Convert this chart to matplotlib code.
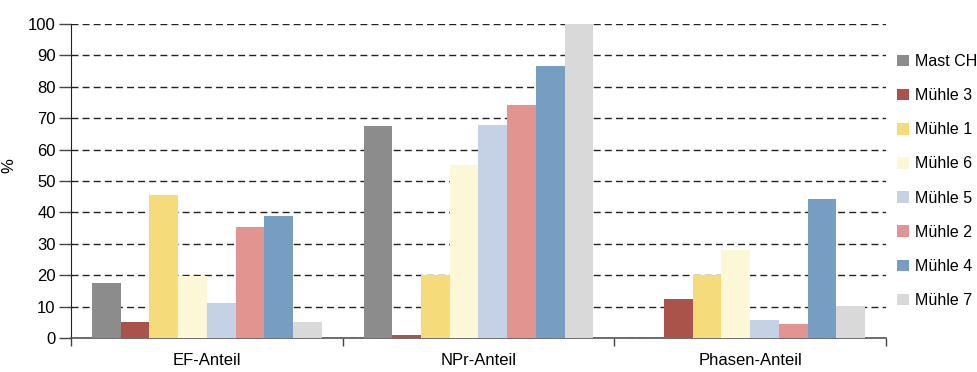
import matplotlib
matplotlib.use("Agg")
import matplotlib.pyplot as plt
import numpy as np
from matplotlib.patches import Patch

categories = ["EF-Anteil", "NPr-Anteil", "Phasen-Anteil"]
series = ["Mast CH", "Mühle 3", "Mühle 1", "Mühle 6", "Mühle 5", "Mühle 2", "Mühle 4", "Mühle 7"]
mast_ch = [17.5, 67.5, 0]
muehle3 = [5.1, 1.0, 12.5]
muehle1 = [45.5, 20.0, 20.0]
muehle6 = [19.8, 55.2, 28.1]
muehle5 = [11.0, 67.8, 5.8]
muehle2 = [35.3, 74.3, 4.6]
muehle4 = [39.0, 86.7, 44.2]
muehle7 = [5.1, 100.0, 10.3]
values = [mast_ch, muehle3, muehle1, muehle6, muehle5, muehle2, muehle4, muehle7]
colors = ["#8c8c8c", "#a9534b", "#f5db7a", "#fcf7d7", "#c5d2e5", "#e29491", "#769ec2", "#d9d9d9"]
yticks = list(range(0, 101, 10))

plt.rcParams['font.family'] = ['Liberation Sans', 'DejaVu Sans']
FS = 12

fig = plt.figure(figsize=(9.78, 3.72), dpi=100)
ax = fig.add_axes([71/978, 1-338/372, 815/978, 314/372])

n = len(series)
group_w = 0.846
bw = group_w / n
x = np.arange(len(categories))
for i, (name, vals, c) in enumerate(zip(series, values, colors)):
    ax.bar(x - group_w/2 + bw*(i+0.5), vals, width=bw, color=c, label=name, zorder=3, linewidth=0)

ax.set_xlim(-0.5, len(categories)-0.5)
ax.set_ylim(0, 100)
ax.set_yticks(yticks)
ax.set_yticklabels([str(t) for t in yticks], fontsize=FS)
ax.yaxis.grid(True, linestyle=(0, (5, 3)), color="#222222", linewidth=1.0, zorder=0)
ax.tick_params(axis='y', length=9, width=1, color="#444444", pad=2)
ax.set_xticks(x)
ax.set_xticklabels(categories, fontsize=FS)
ax.tick_params(axis='x', length=0, pad=11)
ax.set_xticks(np.arange(-0.5, len(categories), 1.0), minor=True)
ax.tick_params(axis='x', which='minor', length=6, width=1, color="#444444", direction='out')

for s in ["top", "right"]:
    ax.spines[s].set_visible(False)
ax.spines["left"].set_color("#222222")
ax.spines["bottom"].set_color("#555555")
ax.spines["bottom"].set_linewidth(1.2)

ax.set_ylabel("%", fontsize=FS)
ax.yaxis.set_label_coords(-55/815, 0.55)

handles = [Patch(facecolor=c, edgecolor='none') for c in colors]
fig.legend(handles, series, loc="upper left", bbox_to_anchor=(897/978, 1-54/372),
           frameon=False, fontsize=11.5, handlelength=0.75, handleheight=0.75,
           handletextpad=0.35, labelspacing=1.2, borderaxespad=0, borderpad=0)

fig.savefig("out.png", dpi=100)
